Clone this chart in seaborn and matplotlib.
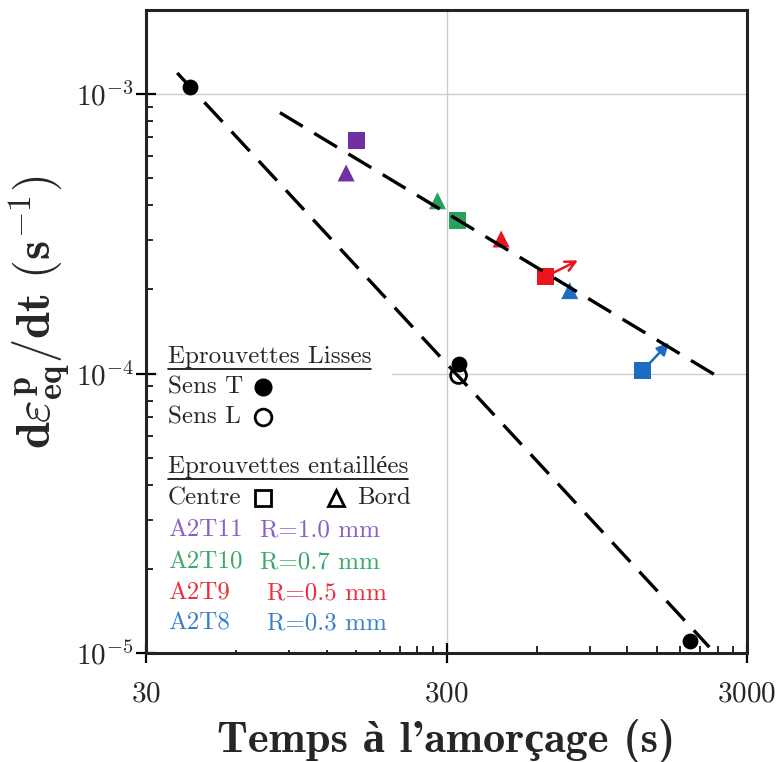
import pandas as pd
import seaborn as sns
import matplotlib.pyplot as plt
from matplotlib.lines import Line2D
from matplotlib.patches import Rectangle
from matplotlib.ticker import FixedLocator, FixedFormatter, NullFormatter

# Smooth specimens
sens_t_temps = [41.9, 329, 1932]
sens_t_vitesse = [1.06e-3, 1.086e-4, 1.10e-5]
sens_l_temps = [329]
sens_l_vitesse = [9.84e-5]

# Notched specimens
eprouvettes = ['A2T11', 'A2T11', 'A2T10', 'A2T10', 'A2T9', 'A2T9', 'A2T8', 'A2T8']
positions = ['Centre', 'Bord', 'Bord', 'Centre', 'Bord', 'Centre', 'Bord', 'Centre']
entaille_temps = [151, 139, 280, 326, 456, 641, 771, 1350]
entaille_vitesse = [6.8e-4, 5.22e-4, 4.15e-4, 3.52e-4, 3.03e-4, 2.22e-4, 1.98e-4, 1.026e-4]

# Arrows (start -> end)
fleche_eprouvettes = ['A2T9', 'A2T8']
fleche_temps = [(641, 821), (1350, 1650)]
fleche_vitesse = [(2.22e-4, 2.54e-4), (1.026e-4, 1.29e-4)]

# Fit lines
fit_lisses_temps = [38.1, 2247]
fit_lisses_vitesse = [1.19e-3, 1.05e-5]
fit_entaille_temps = [83.7, 2364]
fit_entaille_vitesse = [8.58e-4, 9.84e-5]

# Legend
legende_noms = ['A2T11', 'A2T10', 'A2T9', 'A2T8']
legende_rayons = ['R=1.0 mm', 'R=0.7 mm', 'R=0.5 mm', 'R=0.3 mm']

x_major = [30, 300, 3000]
x_minor = [60, 90, 120, 150, 180, 210, 240, 270, 600, 900, 1200, 1500, 1800, 2100, 2400, 2700]
y_major = [1e-5, 1e-4, 1e-3]
y_major_labels = [r'$10^{-5}$', r'$10^{-4}$', r'$10^{-3}$']
y_minor = [m * 10.0 ** e for e in (-5, -4, -3) for m in range(2, 10)]

couleurs = {'A2T11': '#7030A0', 'A2T10': '#2BA05A', 'A2T9': '#E8141E', 'A2T8': '#1C6CC0'}
couleurs_texte = {'A2T11': '#8A60C8', 'A2T10': '#3AAA6A', 'A2T9': '#E83040', 'A2T8': '#3A80CC'}

sns.set_style('white')
plt.rcParams['mathtext.fontset'] = 'cm'
plt.rcParams['axes.unicode_minus'] = False

fig = plt.figure(figsize=(7.82, 7.62), dpi=100)
ax = fig.add_axes([0.1867, 0.143, 0.7686, 0.844])
ax.set_xscale('log')
ax.set_yscale('log')

df = pd.DataFrame({'temps': entaille_temps, 'vitesse': entaille_vitesse,
                   'eprouvette': eprouvettes, 'position': positions})

# Arrows below markers
for ep, tx, vy in zip(fleche_eprouvettes, fleche_temps, fleche_vitesse):
    style = '->' if ep == 'A2T9' else '-|>'
    ax.annotate('', xy=(tx[1], vy[1]), xytext=(tx[0], vy[0]),
                arrowprops=dict(arrowstyle=style, color=couleurs[ep], lw=1.8,
                                mutation_scale=18, shrinkA=0, shrinkB=0), zorder=3)

sns.scatterplot(data=df, x='temps', y='vitesse', hue='eprouvette', style='position',
                palette=couleurs, markers={'Centre': 's', 'Bord': '^'}, s=150,
                linewidth=0, legend=False, ax=ax, zorder=4)
sns.scatterplot(x=sens_t_temps, y=sens_t_vitesse, color='black', s=130, linewidth=0,
                ax=ax, zorder=4)
sns.scatterplot(x=sens_l_temps, y=sens_l_vitesse, marker='o', s=130, facecolor='none',
                edgecolor='black', linewidth=2, ax=ax, zorder=5)

for fx, fy in [(fit_lisses_temps, fit_lisses_vitesse), (fit_entaille_temps, fit_entaille_vitesse)]:
    ax.plot(fx, fy, color='black', lw=2.4, dashes=(8, 4), zorder=6)

ax.set_xlim(30, 3000)
ax.set_ylim(1e-5, 2e-3)

ax.xaxis.set_major_locator(FixedLocator(x_major))
ax.xaxis.set_major_formatter(FixedFormatter([f'${v}$' for v in x_major]))
ax.xaxis.set_minor_locator(FixedLocator(x_minor))
ax.xaxis.set_minor_formatter(NullFormatter())
ax.yaxis.set_major_locator(FixedLocator(y_major))
ax.yaxis.set_major_formatter(FixedFormatter(y_major_labels))
ax.yaxis.set_minor_locator(FixedLocator(y_minor))
ax.yaxis.set_minor_formatter(NullFormatter())

ax.tick_params(which='major', direction='inout', length=14, width=1.6, labelsize=21,
               color='black', bottom=True, left=True, top=False, right=False)
ax.tick_params(axis='x', which='major', pad=12)
ax.tick_params(axis='y', which='major', pad=2)
ax.tick_params(which='minor', direction='in', length=5, width=1.4,
               bottom=True, left=True, top=False, right=False)
for sp in ax.spines.values():
    sp.set_linewidth(2.2)
    sp.set_color('#222222')

ax.set_axisbelow(True)
ax.grid(which='major', color='#cccccc', lw=1.0)

# White box behind the legend
ax.add_patch(Rectangle((0.02, 0.005), 0.39, 0.485, transform=ax.transAxes,
                       facecolor='white', edgecolor='none', zorder=1.5))

ax.set_xlabel("Temps à l'amorçage (s)", fontsize=32, fontweight='bold',
              family=['cmb10', 'Liberation Serif'])
ax.xaxis.set_label_coords(0.5, -0.102)
ax.set_ylabel(r'$\mathbf{d}\boldsymbol{\varepsilon}^{\mathbf{p}}_{\mathbf{eq}}\mathbf{/dt\ (s^{-1})}$',
              fontsize=35)
ax.yaxis.set_label_coords(-0.122, 0.53)

# Custom legend
fs = 18
fam = ['cmr10', 'Liberation Serif']
tx0 = 0.0366
t_lisses = ax.text(tx0, 0.460, 'Eprouvettes Lisses', transform=ax.transAxes, fontsize=fs,
                   family=fam, va='center', zorder=7)
ax.text(tx0, 0.4137, 'Sens T', transform=ax.transAxes, fontsize=fs, family=fam, va='center', zorder=7)
ax.text(tx0, 0.367, 'Sens L', transform=ax.transAxes, fontsize=fs, family=fam, va='center', zorder=7)
ax.plot([0.1947], [0.4137], 'o', transform=ax.transAxes, ms=12, color='black', zorder=7)
ax.plot([0.1947], [0.367], 'o', transform=ax.transAxes, ms=12, mfc='white', mec='black', mew=2, zorder=7)
t_ent = ax.text(tx0, 0.289, 'Eprouvettes entaillées', transform=ax.transAxes, fontsize=fs,
                family=fam, va='center', zorder=7)
ax.text(tx0, 0.241, 'Centre', transform=ax.transAxes, fontsize=fs, family=fam, va='center', zorder=7)
ax.plot([0.1947], [0.241], 's', transform=ax.transAxes, ms=12, mfc='white', mec='black', mew=2, zorder=7)
ax.plot([0.316], [0.241], '^', transform=ax.transAxes, ms=12, mfc='white', mec='black', mew=2, zorder=7)
ax.text(0.351, 0.241, 'Bord', transform=ax.transAxes, fontsize=fs, family=fam, va='center', zorder=7)
row_y = [0.191, 0.1415, 0.0933, 0.0467]
row_r = [0.1905, 0.1905, 0.2005, 0.2005]
for nom, rayon, yy, xr in zip(legende_noms, legende_rayons, row_y, row_r):
    ax.text(tx0, yy, nom, transform=ax.transAxes, fontsize=fs, family=fam, va='center',
            color=couleurs_texte[nom], zorder=7)
    ax.text(xr, yy, rayon, transform=ax.transAxes, fontsize=fs, family=fam, va='center',
            color=couleurs_texte[nom], zorder=7)

# Underline the legend headers
fig.canvas.draw()
renderer = fig.canvas.get_renderer()
W, H = fig.bbox.width, fig.bbox.height
for t in (t_lisses, t_ent):
    bb = t.get_window_extent(renderer)
    yline = (bb.y0 - 1) / H
    fig.add_artist(Line2D([bb.x0 / W, bb.x1 / W], [yline, yline], color='black', lw=1.2))

fig.savefig('out.png', dpi=100)
